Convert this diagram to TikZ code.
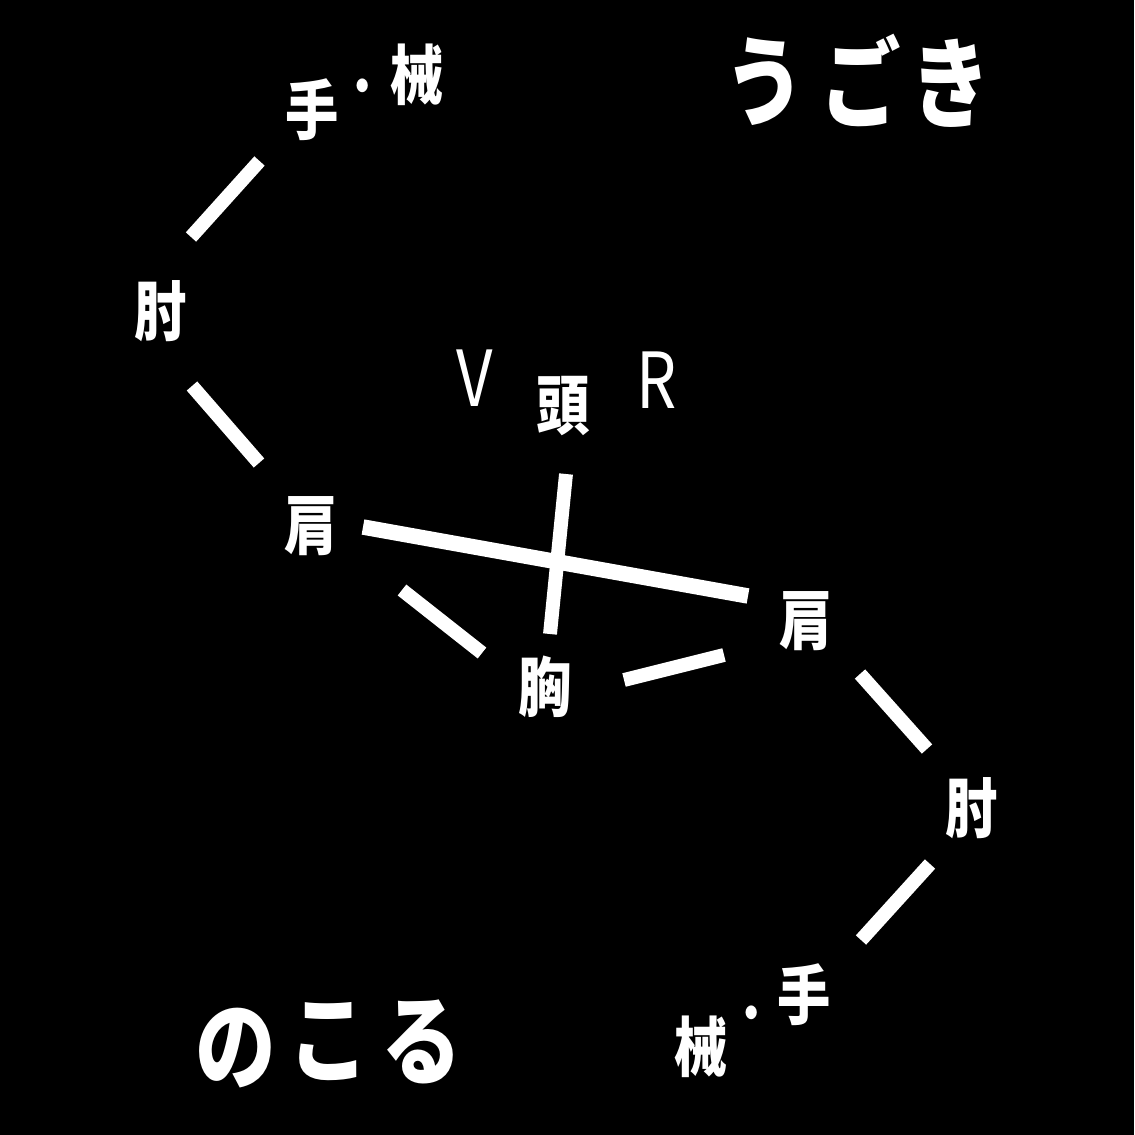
\documentclass[tikz,border=0pt]{standalone}
\usepackage{fontspec}
\newfontfamily\jpfont{Noto Sans CJK JP}[FakeStretch=0.82]
\begin{document}
\begin{tikzpicture}[x=0.02cm,y=-0.02cm,
	part/.style={text=white,inner sep=0pt,font=\jpfont\bfseries\fontsize{37}{37}\selectfont},
	kana/.style={text=white,inner sep=0pt,font=\jpfont\bfseries\fontsize{56}{56}\selectfont},
	letter/.style={text=white,inner sep=0pt,font=\jpfont\fontsize{44}{44}\selectfont},
	bone/.style={white,line width=7.9pt,line cap=butt}]
	\fill[black] (0,0) rectangle (1134,1135);
	% title words
	\node[kana] (u) at (765,82) {う};
	\node[kana] (go) at (861,80) {ご};
	\node[kana] (ki) at (951,83) {き};
	\node[kana] (no) at (236,1048) {の};
	\node[kana] (ko) at (329,1042) {こ};
	\node[kana] (ru) at (422,1042) {る};
	% body parts
	\node[part] (handL) at (312,110) {手};
	\node[part,font=\jpfont\bfseries\fontsize{28}{28}\selectfont] (dotL) at (363,92) {・};
	\node[part] (toolL) at (417,75) {械};
	\node[part] (elbowL) at (161,311) {肘};
	\node[part] (shoulderL) at (311,526) {肩};
	\node[part] (head) at (563,406) {頭};
	\node[part] (chest) at (545,687) {胸};
	\node[part] (shoulderR) at (806,621) {肩};
	\node[part] (elbowR) at (972,808) {肘};
	\node[part] (handR) at (804,995) {手};
	\node[part,font=\jpfont\bfseries\fontsize{28}{28}\selectfont] (dotR) at (752,1019) {・};
	\node[part] (toolR) at (701,1047) {械};
	\node[letter] (vee) at (475,378) {V};
	\node[letter] (arr) at (657,380) {R};
	% bone ends
	\coordinate (foreL1) at (259.5,161);
	\coordinate (foreL2) at (191,237);
	\coordinate (upperL1) at (192,386);
	\coordinate (upperL2) at (259,463);
	\coordinate (clav1) at (363,527);
	\coordinate (clav2) at (748,596);
	\coordinate (spine1) at (566,474);
	\coordinate (spine2) at (550,634);
	\coordinate (ribL1) at (402,590);
	\coordinate (ribL2) at (482,653);
	\coordinate (ribR1) at (624,680);
	\coordinate (ribR2) at (724,655);
	\coordinate (upperR1) at (860,674);
	\coordinate (upperR2) at (927,749);
	\coordinate (foreR1) at (930,864);
	\coordinate (foreR2) at (861,940);
	\draw[bone] (foreL1) -- (foreL2);
	\draw[bone] (upperL1) -- (upperL2);
	\draw[bone,line width=8.8pt] (clav1) -- (clav2);
	\draw[bone] (spine1) -- (spine2);
	\draw[bone] (ribL1) -- (ribL2);
	\draw[bone] (ribR1) -- (ribR2);
	\draw[bone] (upperR1) -- (upperR2);
	\draw[bone] (foreR1) -- (foreR2);
\end{tikzpicture}
\end{document}
